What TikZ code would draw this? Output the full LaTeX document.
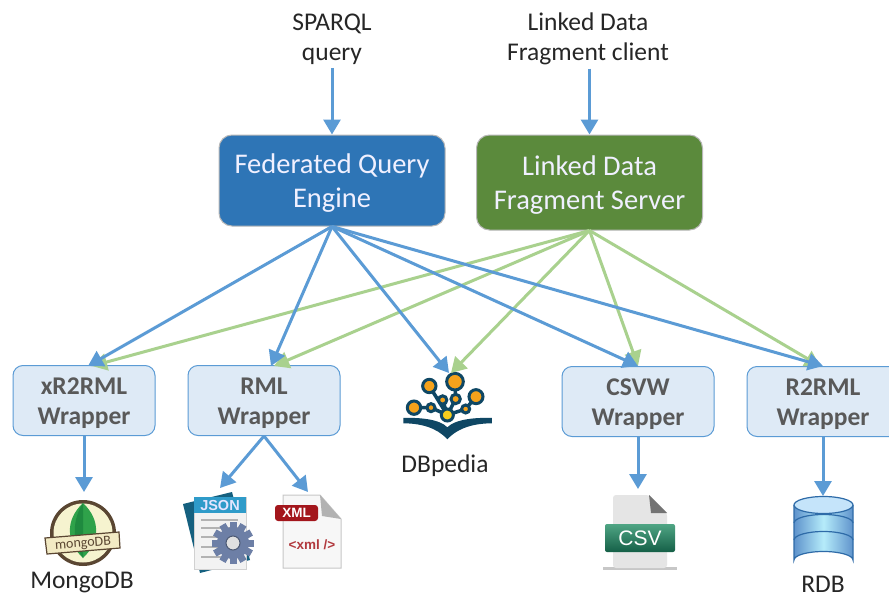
\documentclass[tikz,border=0pt]{standalone}
\usepackage{fontspec}
\setmainfont{Carlito}
\newfontfamily\iconfont{Liberation Sans}
\usetikzlibrary{arrows.meta,shapes.geometric,positioning}
\definecolor{arrowblue}{HTML}{5B9BD5}
\definecolor{arrowgreen}{HTML}{A9D18E}
\definecolor{fedblue}{HTML}{2E75B6}
\definecolor{ldfgreen}{HTML}{5B8A3C}
\definecolor{wrapfill}{HTML}{DEEAF6}
\definecolor{wraptext}{HTML}{595959}
\definecolor{labeltext}{HTML}{262626}
\definecolor{dbnavy}{HTML}{0F4764}
\definecolor{dborange}{HTML}{F5A21B}
\definecolor{dbyellow}{HTML}{F7CE1E}
\definecolor{jsonblue}{HTML}{2F9BC9}
\definecolor{jsonback}{HTML}{15607F}
\definecolor{gearcol}{HTML}{6D7FA6}
\definecolor{csvtop}{HTML}{4FA584}
\definecolor{csvbot}{HTML}{155F47}
\definecolor{rdbmid}{HTML}{B5ECFA}
\definecolor{rdbtop}{HTML}{C5E4FA}
\definecolor{rdbside}{HTML}{5F93CC}
\definecolor{rdbline}{HTML}{2E6BA8}
\definecolor{mcream}{HTML}{F6F3CF}
\definecolor{mbrown}{HTML}{5A4632}
\definecolor{mleaf}{HTML}{2FA24A}
\definecolor{mleafd}{HTML}{1F8A3F}
\definecolor{xmlred}{HTML}{A3161C}
\tikzset{
  engine/.style={draw=black!28,line width=1pt,rounded corners=13pt,minimum width=226pt},
  enginetext/.style={text=white!94!blue,align=center,yshift=-2.5pt,font=\fontsize{28.5}{34}\selectfont},
  wrapper/.style={draw=arrowblue,line width=1pt,fill=wrapfill,rounded corners=10pt,minimum width=152pt,minimum height=70pt},
  wrappertext/.style={text=wraptext,align=center,yshift=-2.5pt,font=\fontsize{25.5}{30.5}\selectfont\bfseries},
  lbl/.style={text=labeltext,align=center,font=\fontsize{25.5}{30}\selectfont},
  blueconn/.style={draw=arrowblue,line width=3pt,-{Triangle[length=15pt,width=17pt]}},
  greenconn/.style={draw=arrowgreen,line width=3pt,-{Triangle[length=15pt,width=17pt]}},
  dbnode/.style={draw=dbnavy,line width=3pt,fill=dborange,circle,inner sep=0pt},
  dbline/.style={draw=dbnavy,line width=3.5pt},
}
\begin{document}
\begin{tikzpicture}[x=1pt,y=-1pt]
\useasboundingbox (0,0) rectangle (889,597);
\clip (0,0) rectangle (889,597);
\fill[white] (0,0) rectangle (889,597);

% --- icons -------------------------------------------------------
% DBpedia
\begin{scope}[shift={(390,340)},x=0.3333pt,y=-0.3333pt]
\draw[dbline] (172,225)--(118,138) (172,225)--(158,180) (172,225)--(197,177)--(195,125)
  (172,225)--(227,207)--(258,170) (172,225)--(123,203)--(72,203);
\foreach \px/\py/\pr in {118/138/40,195/125/50,258/170/42,72/203/40,158/180/25,197/177/28,123/203/24,227/207/24}
  \node[dbnode,minimum size=\pr*0.3333pt] at (\px,\py) {};
\node[dbnode,fill=dbyellow,minimum size=12pt] at (172,225) {};
\fill[dbnavy] (40,234) .. controls (90,232) and (150,238) .. (172,262)
  .. controls (195,238) and (255,232) .. (306,234) -- (306,250)
  .. controls (255,250) and (205,262) .. (172,298)
  .. controls (140,262) and (90,250) .. (40,250) -- cycle;
\end{scope}

% MongoDB
\fill[mbrown] (83,533) circle (33);
\fill[mcream] (83,533) circle (29.5);
\fill[mleaf] (83,503) .. controls (101,520) and (100,542) .. (83,558)
  .. controls (66,542) and (65,520) .. (83,503) -- cycle;
\fill[mleafd] (83,503) .. controls (72,520) and (72,542) .. (83,558) -- cycle;
\filldraw[fill=mcream!92!brown,draw=mbrown,line width=1.2pt] (45,538) -- (119,532) -- (120,548) -- (47,554) -- cycle;
\node[rotate=4,text=mbrown,inner sep=0pt,font=\rmfamily\fontsize{14}{14}\selectfont] at (83,544) {mongoDB};

% JSON
\fill[jsonback] (183,504) -- (232,492) -- (250,560) -- (200,573) -- cycle;
\fill[white!95!black,draw=black!18] (194,497) rectangle (246,569);
\fill[jsonblue] (194,497) rectangle (246,513);
\node[text=white!90!blue,inner sep=0pt,font=\iconfont\bfseries\fontsize{14.5}{14.5}\selectfont] at (220,505.5) {JSON};
\foreach \ly in {520,528,537,547,557} \draw[black!30,line width=1.2pt] (201,\ly) -- (238,\ly);
\begin{scope}[shift={(233,543)}]
\foreach \a in {0,30,...,330}
  \fill[gearcol,rotate=\a] (-3.5,-21) rectangle (3.5,-14);
\fill[gearcol] (0,0) circle (16);
\fill[black!12] (0,0) circle (7);
\draw[gearcol!70!black,line width=1pt] (0,0) circle (7);
\end{scope}

% XML
\filldraw[fill=white!97!black,draw=black!22,line width=1pt] (283,495) -- (320,495) -- (341,519) -- (341,568) -- (283,568) -- cycle;
\fill[black!30] (320,495) -- (341,519) -- (322,516) -- cycle;
\fill[xmlred,rounded corners=3pt] (275,505) rectangle (318,521);
\node[text=white,inner sep=0pt,font=\iconfont\bfseries\fontsize{13.5}{13.5}\selectfont] at (296.5,513) {XML};
\node[text=xmlred!85!white,inner sep=0pt,font=\iconfont\bfseries\fontsize{13.5}{13.5}\selectfont] at (312,545) {<xml />};

% CSV
\fill[black!22] (603,567) rectangle (677,570);
\fill[black!10,rounded corners=3pt] (613,495) -- (649,495) -- (667,513) -- (667,568) -- (613,568) -- cycle;
\fill[black!55] (649,495) -- (667,513) -- (651,513) -- cycle;
\shade[top color=csvtop,bottom color=csvbot,rounded corners=2pt] (605,524) rectangle (675,552);
\node[text=white,inner sep=0pt,font=\iconfont\fontsize{21}{21}\selectfont] at (640,538) {CSV};

% RDB
\shade[left color=rdbside,right color=rdbside,middle color=rdbmid] (794,505) -- (794,560) arc[start angle=180,end angle=360,x radius=29.5,y radius=8.5] -- (853,505) -- cycle;
\draw[rdbline,line width=1.2pt] (794,505) -- (794,560) arc[start angle=180,end angle=360,x radius=29.5,y radius=8.5] -- (853,505);
\draw[rdbline,line width=1.2pt] (794,523) arc[start angle=180,end angle=360,x radius=29.5,y radius=8.5];
\draw[rdbline,line width=1.2pt] (794,540) arc[start angle=180,end angle=360,x radius=29.5,y radius=8.5];
\filldraw[fill=rdbtop,draw=rdbline,line width=1.2pt] (823.5,505) ellipse (29.5 and 8.5);

% --- anchors for arrow ends on icons -----------------------------
\coordinate (mongo) at (84,492);
\coordinate (json) at (220,488);
\coordinate (xml) at (308,492);
\coordinate (dbpedia) at (449,373);
\coordinate (dbpediaG) at (451,373);
\coordinate (csv) at (638,489);
\coordinate (rdb) at (823,496);
\coordinate (xrG) at (92,366);
\coordinate (rmlG) at (274,366);
\coordinate (csvG) at (638,366);
\coordinate (r2G) at (820,366);
\coordinate (xrB) at (88,366);
\coordinate (rmlB) at (271,366);
\coordinate (csvB) at (638,366);
\coordinate (r2B) at (823,366);

% --- nodes -------------------------------------------------------
\node[engine,fill=fedblue,minimum height=91pt,label={[enginetext]center:{Federated Query\\Engine}}] (fed) at (332,180.5) {};
\node[engine,fill=ldfgreen,minimum height=95pt,label={[enginetext]center:{Linked Data\\Fragment Server}}] (ldf) at (589.5,182.5) {};
\node[wrapper,minimum width=142pt,label={[wrappertext]center:{xR2RML\\Wrapper}}] (xr) at (84,400.5) {};
\node[wrapper,label={[wrappertext]center:{RML\\Wrapper}}] (rml) at (264,400.5) {};
\node[wrapper,label={[wrappertext]center:{CSVW\\Wrapper}}] (csvw) at (638,401.5) {};
\node[wrapper,label={[wrappertext]center:{R2RML\\Wrapper}}] (r2) at (823,401.5) {};

\node[lbl] (sparql) at (332,39) {SPARQL\\query};
\node[lbl] (ldclient) at (588,39) {Linked Data\\Fragment client};
\node[lbl] (dbl) at (445,465.5) {DBpedia};
\node[lbl] (mongol) at (82,583) {MongoDB};
\node[lbl] (rdbl) at (823,584) {RDB};

% --- connectors --------------------------------------------------
\coordinate (fedS) at (fed.south);
\coordinate (ldfS) at (ldf.south);
\draw[greenconn] (ldfS) -- (r2G);
\draw[greenconn] (ldfS) -- (csvG);
\draw[greenconn] (ldfS) -- (dbpediaG);
\draw[greenconn] (ldfS) -- (rmlG);
\draw[greenconn] (ldfS) -- (xrG);
\draw[blueconn] (fedS) -- (xrB);
\draw[blueconn] (fedS) -- (rmlB);
\draw[blueconn] (fedS) -- (dbpedia);
\draw[blueconn] (fedS) -- (csvB);
\draw[blueconn] (fedS) -- (r2B);
\draw[blueconn] (sparql.south) -- (fed.north);
\draw[blueconn] (ldclient.south -| ldf.north) -- (ldf.north);
\draw[blueconn] (xr.south) -- (mongo);
\draw[blueconn] (rml.south) -- (json);
\draw[blueconn] (rml.south) -- (xml);
\draw[blueconn] (csvw.south) -- (csv);
\draw[blueconn] (r2.south) -- (rdb);
\end{tikzpicture}
\end{document}
